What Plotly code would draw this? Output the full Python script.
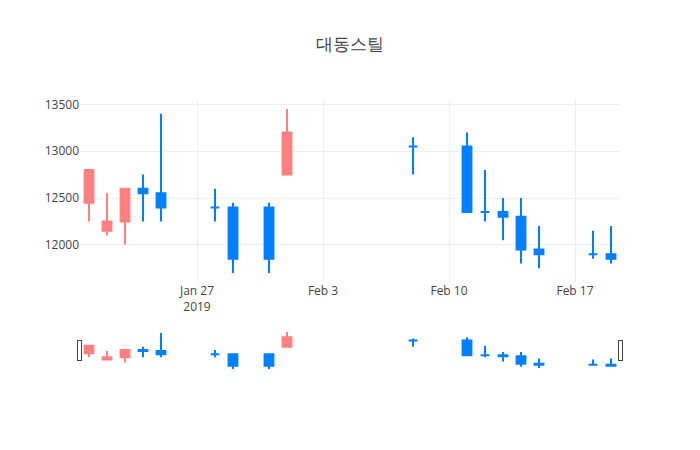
import plotly.graph_objects as go

dates = ["2019-01-21", "2019-01-22", "2019-01-23", "2019-01-24", "2019-01-25",
         "2019-01-28", "2019-01-29", "2019-01-31", "2019-02-01", "2019-02-08",
         "2019-02-11", "2019-02-12", "2019-02-13", "2019-02-14", "2019-02-15",
         "2019-02-18", "2019-02-19"]
open_ = [12450, 12150, 12250, 12600, 12550, 12400, 12400, 12400, 12750, 13050,
         13050, 12350, 12350, 12300, 11950, 11900, 11900]
high = [12800, 12550, 12600, 12750, 13400, 12600, 12450, 12450, 13450, 13150,
        13200, 12800, 12500, 12500, 12200, 12150, 12200]
low = [12250, 12100, 12000, 12250, 12250, 12250, 11700, 11700, 12750, 12750,
       12350, 12250, 12050, 11800, 11750, 11850, 11800]
close = [12800, 12250, 12600, 12550, 12400, 12400, 11850, 11850, 13200, 13050,
         12350, 12350, 12300, 11950, 11900, 11900, 11850]

UP = "#FF8080"
DOWN = "#0080FF"

fig = go.Figure(go.Candlestick(
    x=dates, open=open_, high=high, low=low, close=close,
    increasing=dict(line=dict(color=UP), fillcolor=UP),
    decreasing=dict(line=dict(color=DOWN), fillcolor=DOWN),
))
fig.update_layout(
    template="none",
    title=dict(text="대동스틸", x=0.5),
    width=700, height=450,
    showlegend=False,
    yaxis=dict(tickformat="d"),
    xaxis=dict(rangeslider=dict(visible=True)),
)
fig.write_html("out.html",
               config={"displayModeBar": False},
               post_script="document.body.style.margin='0';")
